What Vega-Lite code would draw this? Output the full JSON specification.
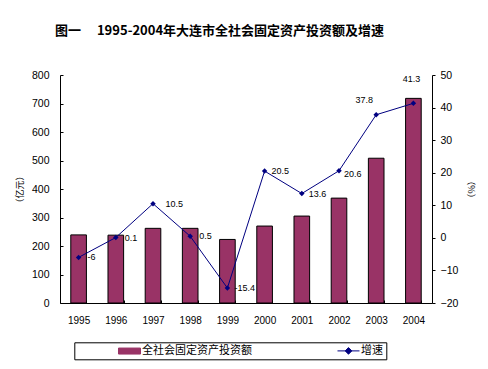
{
  "$schema": "https://vega.github.io/schema/vega-lite/v6.json",
  "width": 372,
  "height": 228,
  "autosize": {"type": "none"},
  "padding": {"left": 60, "top": 75, "right": 56, "bottom": 66},
  "background": "white",
  "title": {
    "text": "图一　 1995-2004年大连市全社会固定资产投资额及增速",
    "anchor": "start",
    "frame": "group",
    "dx": -5,
    "offset": 32,
    "font": "Noto Sans CJK SC",
    "fontSize": 13,
    "fontWeight": "bold",
    "color": "black"
  },
  "config": {
    "view": {"stroke": null},
    "axis": {
      "domainColor": "black",
      "tickColor": "black",
      "labelColor": "black",
      "titleColor": "black",
      "grid": false,
      "labelFont": "Liberation Sans",
      "titleFont": "Noto Sans CJK SC",
      "titleFontWeight": "normal"
    },
    "legend": {
      "orient": "none",
      "legendX": 14.3,
      "legendY": 267.3,
      "direction": "horizontal",
      "columns": 2,
      "padding": 3,
      "strokeColor": "black",
      "labelFont": "Noto Sans CJK SC",
      "labelFontSize": 11,
      "labelColor": "black",
      "symbolSize": 36,
      "symbolOpacity": 1,
      "symbolStrokeWidth": 1,
      "symbolOffset": 46.7,
      "labelOffset": 7,
      "columnPadding": 44
    }
  },
  "data": {
    "values": [
      {"year": 1995, "amount": 239, "growth": -6, "label": "-6"},
      {"year": 1996, "amount": 238, "growth": 0.1, "label": "0.1"},
      {"year": 1997, "amount": 262, "growth": 10.5, "label": "10.5"},
      {"year": 1998, "amount": 262, "growth": 0.5, "label": "0.5"},
      {"year": 1999, "amount": 223, "growth": -15.4, "label": "-15.4"},
      {"year": 2000, "amount": 270, "growth": 20.5, "label": "20.5"},
      {"year": 2001, "amount": 305, "growth": 13.6, "label": "13.6"},
      {"year": 2002, "amount": 368, "growth": 20.6, "label": "20.6"},
      {"year": 2003, "amount": 508, "growth": 37.8, "label": "37.8"},
      {"year": 2004, "amount": 718, "growth": 41.3, "label": "41.3"}
    ]
  },
  "encoding": {
    "x": {
      "field": "year",
      "type": "ordinal",
      "scale": {"paddingInner": 0.58, "paddingOuter": 0.29},
      "axis": {
        "title": null,
        "labelAngle": 0,
        "tickBand": "extent",
        "tickSize": -3,
        "labelPadding": 15,
        "labelFontSize": 10
      }
    }
  },
  "layer": [
    {
      "mark": {"type": "bar", "stroke": "black", "strokeWidth": 1},
      "encoding": {
        "y": {
          "field": "amount",
          "type": "quantitative",
          "scale": {"domain": [0, 800], "nice": false},
          "axis": {
            "orient": "left",
            "values": [0, 100, 200, 300, 400, 500, 600, 700, 800],
            "title": "（亿元）",
            "titleFontSize": 9,
            "titlePadding": 7,
            "labelFontSize": 10.5,
            "tickSize": -3,
            "labelPadding": 14
          }
        },
        "color": {
          "datum": "全社会固定资产投资额",
          "type": "nominal",
          "scale": {
            "domain": ["全社会固定资产投资额", "增速"],
            "range": ["#993366", "#000080"]
          },
          "legend": {
            "title": null,
            "labelExpr": "datum.label == '增速' ? '增速\u3000\u3000\u3000' : datum.label"
          }
        }
      }
    },
    {
      "encoding": {
        "y": {
          "field": "growth",
          "type": "quantitative",
          "scale": {"domain": [-20, 50], "nice": false, "zero": false},
          "axis": {
            "orient": "right",
            "values": [-20, -10, 0, 10, 20, 30, 40, 50],
            "title": "（%）",
            "titleFontSize": 9,
            "titlePadding": 8,
            "labelFontSize": 10.5,
            "tickSize": 3,
            "labelPadding": 5
          }
        }
      },
      "layer": [
        {
          "mark": {
            "type": "line",
            "strokeWidth": 1,
            "point": {"shape": "diamond", "filled": true, "size": 30}
          },
          "encoding": {"color": {"datum": "增速", "type": "nominal"}}
        },
        {
          "mark": {"type": "point", "opacity": 0},
          "encoding": {
            "shape": {
              "datum": "增速",
              "type": "nominal",
              "scale": {
                "domain": ["全社会固定资产投资额", "增速"],
                "range": ["M-3.667,-1H3.667V1H-3.667Z", "M-3.667,0H3.667M-1.1,0L0,-1.1L1.1,0L0,1.1Z"]
              },
              "legend": {
                "title": null,
                "labelExpr": "datum.label == '增速' ? '增速\u3000\u3000\u3000' : datum.label"
              }
            }
          }
        },
        {
          "transform": [{"filter": {"field": "year", "oneOf": [1995, 1996, 1998]}}],
          "mark": {"type": "text", "align": "left", "baseline": "middle", "dx": 9, "font": "Liberation Sans", "fontSize": 9, "color": "black"},
          "encoding": {"text": {"field": "label", "type": "nominal"}}
        },
        {
          "transform": [{"filter": {"field": "year", "oneOf": [1999, 2000, 2001]}}],
          "mark": {"type": "text", "align": "left", "baseline": "middle", "dx": 7, "font": "Liberation Sans", "fontSize": 9, "color": "black"},
          "encoding": {"text": {"field": "label", "type": "nominal"}}
        },
        {
          "transform": [{"filter": {"field": "year", "oneOf": [1997]}}],
          "mark": {"type": "text", "align": "left", "baseline": "middle", "dx": 12.5, "font": "Liberation Sans", "fontSize": 9, "color": "black"},
          "encoding": {"text": {"field": "label", "type": "nominal"}}
        },
        {
          "transform": [{"filter": {"field": "year", "oneOf": [2002]}}],
          "mark": {"type": "text", "align": "left", "baseline": "middle", "dx": 5, "dy": 3, "font": "Liberation Sans", "fontSize": 9, "color": "black"},
          "encoding": {"text": {"field": "label", "type": "nominal"}}
        },
        {
          "transform": [{"filter": {"field": "year", "oneOf": [2003]}}],
          "mark": {"type": "text", "align": "center", "baseline": "middle", "dx": -12, "dy": -15, "font": "Liberation Sans", "fontSize": 9, "color": "black"},
          "encoding": {"text": {"field": "label", "type": "nominal"}}
        },
        {
          "transform": [{"filter": {"field": "year", "oneOf": [2004]}}],
          "mark": {"type": "text", "align": "center", "baseline": "middle", "dx": -2, "dy": -24, "font": "Liberation Sans", "fontSize": 9, "color": "black"},
          "encoding": {"text": {"field": "label", "type": "nominal"}}
        }
      ]
    }
  ],
  "resolve": {"scale": {"y": "independent"}}
}
